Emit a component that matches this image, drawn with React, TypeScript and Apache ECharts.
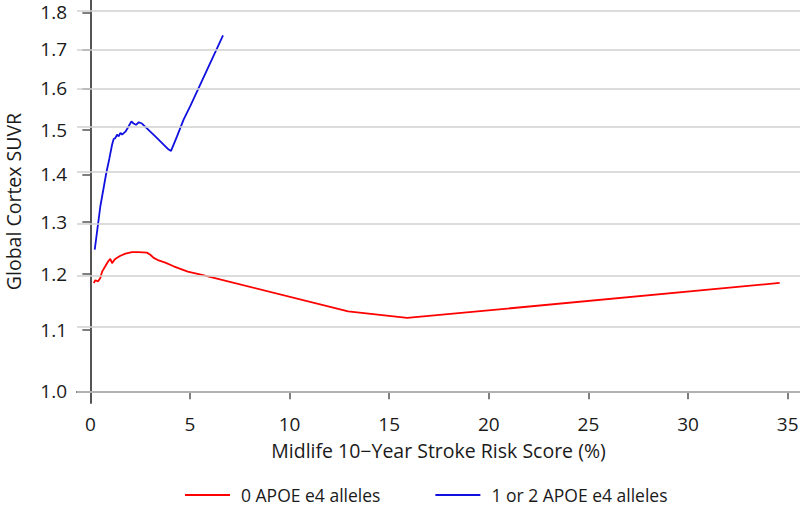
import React, { useEffect, useRef } from "react";
import * as echarts from "echarts";

const redX = [0.17, 0.25, 0.39, 0.5, 0.59, 0.75, 0.89, 1.0, 1.09, 1.22, 1.34, 1.51, 1.76, 2.09, 2.43, 2.84, 3.01, 3.18, 3.43, 3.76, 4.18, 4.89, 5.6, 12.94, 15.9, 34.6];
const redY = [1.183, 1.188, 1.186, 1.192, 1.204, 1.214, 1.223, 1.228, 1.22, 1.227, 1.23, 1.234, 1.238, 1.241, 1.241, 1.24, 1.236, 1.23, 1.225, 1.221, 1.214, 1.204, 1.198, 1.132, 1.1205, 1.183];

const blueX = [0.22, 0.5, 0.8, 0.95, 1.09, 1.17, 1.25, 1.34, 1.42, 1.51, 1.59, 1.76, 1.92, 2.06, 2.17, 2.29, 2.43, 2.59, 3.01, 3.26, 3.93, 4.05, 4.35, 4.68, 5.02, 6.66];
const blueY = [1.246, 1.332, 1.403, 1.434, 1.466, 1.479, 1.481, 1.489, 1.485, 1.493, 1.489, 1.496, 1.508, 1.52, 1.515, 1.512, 1.518, 1.515, 1.496, 1.485, 1.455, 1.452, 1.485, 1.524, 1.557, 1.737];

const xTicks = [0, 5, 10, 15, 20, 25, 30, 35];
const yTicks = [1.0, 1.1, 1.2, 1.3, 1.4, 1.5, 1.6, 1.7, 1.8];

const seriesNames = ["0 APOE e4 alleles", "1 or 2 APOE e4 alleles"];

const FONT = "Open Sans";
const AXIS_COLOR = "#555555";
const TEXT_COLOR = "#1a1a1a";

export default function App() {
  const ref = useRef<HTMLDivElement>(null);
  useEffect(() => {
    if (!ref.current) return;
    const chart = echarts.init(ref.current, null, { renderer: "svg" });
    const yTickLog = yTicks.map((v) => Math.log(v));
    const option = {
      animation: false,
      backgroundColor: "#ffffff",
      grid: { left: 77, right: 0, top: 0, bottom: 106, containLabel: false, outerBoundsMode: "none" },
      legend: {
        left: 180,
        bottom: 0,
        icon: "rect",
        itemWidth: 45,
        itemHeight: 2,
        itemGap: 55,
        textStyle: { fontFamily: FONT, fontSize: 17.5, color: TEXT_COLOR, padding: [0, 0, 0, 6] },
        data: seriesNames,
      },
      xAxis: {
        type: "value",
        min: -0.67,
        max: 35.62,
        name: "Midlife 10\u2212Year Stroke Risk Score (%)",
        nameLocation: "middle",
        nameGap: 37,
        nameTextStyle: { fontFamily: FONT, fontSize: 19.5, color: TEXT_COLOR },
        axisLine: { show: true, lineStyle: { color: AXIS_COLOR, width: 2 } },
        axisTick: { show: true, length: 8, customValues: xTicks, lineStyle: { color: AXIS_COLOR, width: 1.5 } },
        axisLabel: { customValues: xTicks, margin: 11, fontFamily: FONT, fontSize: 19, color: TEXT_COLOR },
        splitLine: { show: false },
      },
      yAxis: {
        type: "value",
        min: Math.log(0.982),
        max: Math.log(1.835),
        name: "Global Cortex SUVR",
        nameLocation: "middle",
        nameGap: 54,
        nameRotate: 90,
        nameTextStyle: { fontFamily: FONT, fontSize: 19.5, lineHeight: 20, color: TEXT_COLOR },
        axisLine: { show: true, lineStyle: { color: AXIS_COLOR, width: 2 } },
        axisTick: { show: true, length: 8, customValues: yTickLog, lineStyle: { color: AXIS_COLOR, width: 1.5 } },
        axisLabel: {
          customValues: yTickLog,
          margin: 10,
          fontFamily: FONT,
          fontSize: 19,
          color: TEXT_COLOR,
          formatter: (v: number) => Math.exp(v).toFixed(1),
        },
        splitLine: { show: false },
      },
      series: [
        {
          name: "grid",
          type: "line",
          data: [],
          silent: true,
          markLine: {
            silent: true,
            symbol: "none",
            label: { show: false },
            lineStyle: { color: "#d0d0d0", width: 1.5, type: "solid" },
            data: yTickLog.map((v) => ({ yAxis: v })),
          },
          z: 1,
        },
        {
          name: seriesNames[0],
          type: "line",
          symbol: "none",
          color: "#ff0000",
          lineStyle: { color: "#ff0000", width: 1.8 },
          data: redX.map((x, i) => [x, Math.log(redY[i])]),
          z: 3,
        },
        {
          name: seriesNames[1],
          type: "line",
          symbol: "none",
          color: "#1010e0",
          lineStyle: { color: "#1010e0", width: 1.8 },
          data: blueX.map((x, i) => [x, Math.log(blueY[i])]),
          z: 3,
        },
      ],
    };
    chart.setOption(option as any);
    return () => chart.dispose();
  }, []);
  return (
    <div
      ref={ref}
      style={{ position: "fixed", left: 0, top: 0, width: 800, height: 509, background: "#fff" }}
    />
  );
}
